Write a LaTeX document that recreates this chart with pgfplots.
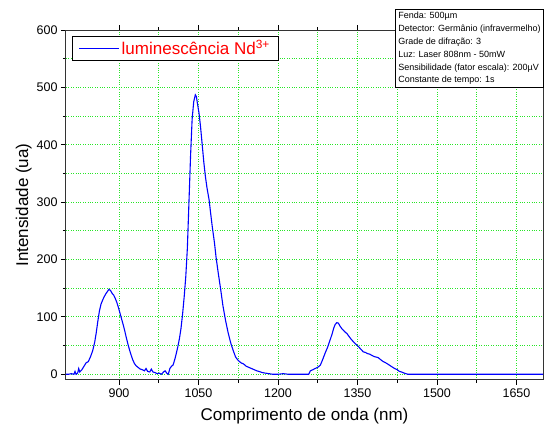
\documentclass[border=0pt]{standalone}
\usepackage{pgfplots}
\pgfplotsset{compat=1.18}
\usepackage{fontspec}
\setmainfont{Liberation Sans}
\definecolor{gridgreen}{RGB}{40,230,40}
\definecolor{curveblue}{RGB}{0,0,255}
\begin{document}
\begin{tikzpicture}
\begin{axis}[
  name=ax, scale only axis, width=477pt, height=350pt,
  xmin=800, xmax=1700, ymin=-10, ymax=600,
  xtick={900,1050,...,1650}, ytick={0,100,...,600},
  minor x tick num=1, minor y tick num=1,
  tick align=outside, tick pos=both,
  major tick length=5pt, minor tick length=3pt,
  grid=both,
  major grid style={gridgreen, dotted, line width=0.8pt},
  minor grid style={gridgreen, dotted, line width=0.8pt},
  axis line style={black!80, line width=1pt},
  every tick/.style={black, line width=0.8pt},
  /pgf/number format/assume math mode=true,
  /pgf/number format/1000 sep={},
  ticklabel style={font=\fontsize{12.5}{14}\selectfont},
  xlabel={Comprimento de onda (nm)}, ylabel={Intensidade (ua)},
  label style={font=\fontsize{17}{19}\selectfont},
  ylabel style={yshift=-2pt},
  xlabel style={yshift=-4pt},
  legend style={at={(rel axis cs:0.013,0.983)}, anchor=north west,
    font=\fontsize{17}{19}\selectfont, text=red, draw=black, line width=0.8pt,
    inner xsep=6pt, inner ysep=2pt},
  legend image code/.code={\draw[#1] (0pt,0pt) -- (40pt,0pt);},
  legend cell align=left,
]
\addplot[curveblue, line width=1.1pt] coordinates {
(800,0) (805,0) (810,1) (815,0) (817,5) (819,0) (822,2) (824,10) (826,4) (830,8)
(834,14) (838,20) (842,22) (846,30) (850,40) (854,55) (857,72) (860,92) (863,110)
(866,122) (869,129) (872,135) (875,140) (878,144) (881,148) (884,146) (887,141)
(890,138) (893,132) (896,125) (899,116) (902,106) (905,96) (908,86) (911,75)
(914,63) (917,52) (920,42) (923,33) (926,25) (929,19) (932,15) (936,12) (940,9)
(944,8) (948,6) (951,10) (954,5) (958,4) (961,9) (964,4) (968,3) (972,1) (976,2)
(980,0) (984,4) (987,6) (990,2) (993,0) (996,10) (999,14) (1002,16) (1005,25)
(1008,36) (1011,48) (1014,62) (1017,80) (1020,105) (1023,135) (1026,170)
(1029,220) (1032,300) (1035,380) (1038,445) (1041,475) (1044,487) (1046,484)
(1048,472) (1051,455) (1054,430) (1057,400) (1060,370) (1063,345) (1066,325)
(1070,304) (1073,280) (1076,257) (1080,230) (1083,205) (1087,178) (1092,147)
(1096,120) (1101,94) (1106,72) (1111,54) (1116,40) (1120,30) (1125,24) (1130,20)
(1135,18) (1140,14) (1145,12) (1150,10) (1155,8) (1160,6) (1164,5) (1170,3)
(1176,2) (1183,1) (1190,0) (1200,0) (1210,1) (1220,0) (1240,0) (1258,0)
(1261,6) (1266,8) (1270,10) (1275,12) (1280,16) (1284,25) (1289,37) (1294,48)
(1298,59) (1302,70) (1305,80) (1308,87) (1311,90) (1314,89) (1317,84) (1320,80)
(1323,77) (1326,74) (1330,71) (1334,66) (1338,61) (1342,57) (1345,54) (1350,50)
(1355,45) (1361,39) (1365,38) (1369,36) (1373,35) (1377,33) (1381,31) (1385,30)
(1389,29) (1393,26) (1397,23) (1401,21) (1405,19) (1410,16) (1415,13) (1420,10)
(1425,8) (1429,5) (1433,4) (1438,2) (1445,0) (1460,0) (1500,0) (1550,0)
(1600,0) (1650,0) (1700,0)
};
\addlegendentry{luminescência Nd\textsuperscript{3+}}
\end{axis}
\node[draw=black, fill=white, line width=0.6pt, anchor=north east, align=left,
  inner sep=3pt, font=\fontsize{9}{12.8}\selectfont]
  at ([xshift=1pt,yshift=21pt]ax.north east)
  {Fenda: 500µm\\Detector: Germânio (infravermelho)\\Grade de difração: 3\\Luz: Laser 808nm - 50mW\\Sensibilidade (fator escala): 200µV\\Constante de tempo: 1s};
\pgfresetboundingbox
\useasboundingbox ([xshift=-66pt,yshift=-45pt]ax.south west) rectangle ([xshift=1pt,yshift=30pt]ax.north east);
\end{tikzpicture}
\end{document}
